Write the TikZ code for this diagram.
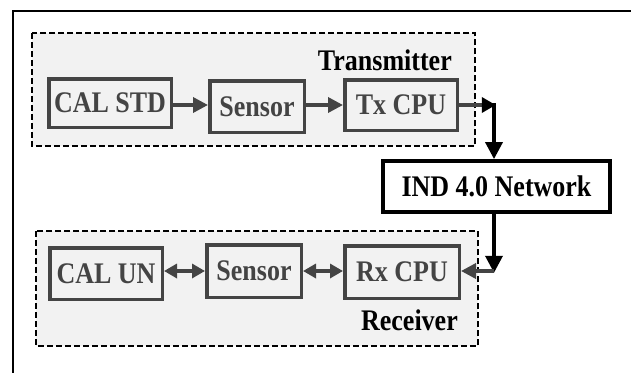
\documentclass[tikz,border=0pt]{standalone}
\usepackage{fontspec}
\setmainfont{Liberation Serif}
\usetikzlibrary{arrows.meta,calc}
\definecolor{boxgray}{RGB}{68,68,68}
\definecolor{panel}{RGB}{242,242,242}
\newcommand\vstr[1]{\scalebox{1}[1.15]{#1}}
\tikzset{
  blk/.style={draw=boxgray, line width=3.5pt, fill=panel, text=boxgray, inner sep=0pt,
    font=\fontsize{26}{30}\selectfont\bfseries},
  grp/.style={draw=black, line width=1.5pt, dash pattern=on 6pt off 3pt, fill=panel},
  lbl/.style={font=\fontsize{26}{30}\selectfont\bfseries, text=black, inner sep=0pt},
  garrow/.style={draw=boxgray, line width=3.5pt, -{Triangle[length=15pt,width=15pt]}},
  gdarrow/.style={draw=boxgray, line width=3.5pt, {Triangle[length=13pt,width=14pt]}-{Triangle[length=13pt,width=14pt]}},
  barrow/.style={draw=black, line width=3.5pt, -{Triangle[length=17pt,width=17pt]}},
}
\begin{document}
\begin{tikzpicture}[x=1pt,y=-1pt]
\useasboundingbox (0,0) rectangle (631,372);
\clip (0,0) rectangle (631,372);
% outer frame
\draw[line width=2.2pt] (13,380) -- (13,11) -- (640,11);
% group panels
\draw[grp] (32,33) rectangle (475,146);
\draw[grp] (36,231) rectangle (478,346);
\node[lbl, anchor=east] (tlab) at (452,60) {\vstr{Transmitter}};
\node[lbl, anchor=east] (rlab) at (458,320) {\vstr{Receiver}};
% transmitter blocks
\node[blk, minimum width=122.5pt, minimum height=48.5pt] (cal) at (110,103) {\vstr{CAL STD}};
\node[blk, minimum width=94.5pt, minimum height=51.5pt] (sen1) at (257,106.5) {\vstr{Sensor}};
\node[blk, minimum width=112.5pt, minimum height=50.5pt] (tx) at (401,105) {\vstr{Tx CPU}};
% network
\node[draw=black, line width=3.8pt, fill=white, inner sep=0pt, minimum width=227pt, minimum height=51pt,
  font=\fontsize{26}{30}\selectfont\bfseries] (net) at (496.5,186.5) {\vstr{IND 4.0 Network}};
% receiver blocks
\node[blk, minimum width=112.5pt, minimum height=51.5pt] (calun) at (106,273.5) {\vstr{CAL UN}};
\node[blk, minimum width=94.5pt, minimum height=52.5pt] (sen2) at (254,271) {\vstr{Sensor}};
\node[blk, minimum width=114.5pt, minimum height=52.5pt] (rx) at (402,272) {\vstr{Rx CPU}};
% connectors
\coordinate (c1) at (494,105);
\coordinate (c2) at (494,271);
\draw[garrow] (cal.east |- 0,105) -- (sen1.west |- 0,105);
\draw[garrow] (sen1.east |- 0,105) -- (tx.west |- 0,105);
\draw[draw=boxgray, line width=3.5pt, -{Triangle[length=14pt,width=15pt,black]}] (tx.east |- c1) -- ($(c1)+(1.8,0)$);
\draw[barrow] ($(c1)+(0,-1.8)$) -- (c1 |- net.north);
\draw[barrow] (c1 |- net.south) -- ($(c2)+(0,1.8)$);
\draw[gdarrow] (calun.east |- 0,271) -- (sen2.west |- 0,271);
\draw[gdarrow] (sen2.east |- 0,271) -- (rx.west |- 0,271);
\draw[garrow] (c2) -- (rx.east |- c2);
\end{tikzpicture}
\end{document}
